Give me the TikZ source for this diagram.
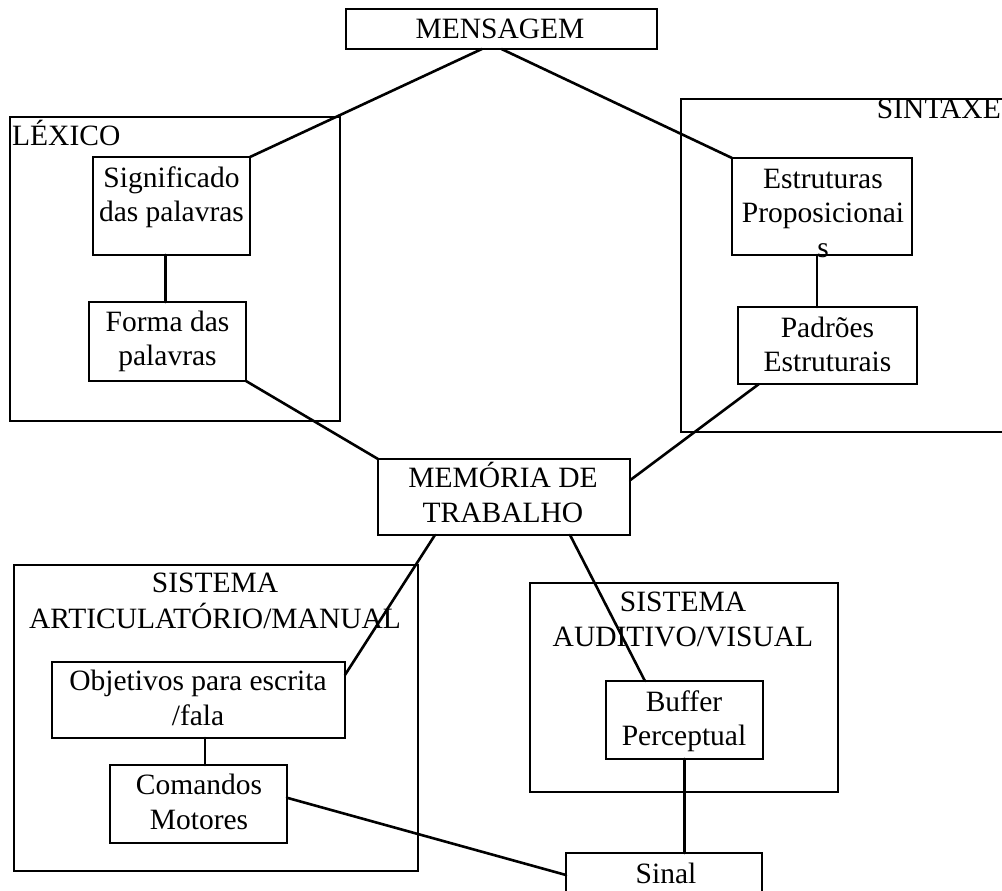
\documentclass[tikz,border=0pt]{standalone}
\usepackage{fontspec}
\setmainfont{Liberation Serif}
\usetikzlibrary{calc}
\tikzset{
  group/.style={draw, line width=1.8pt, inner sep=0pt, outer sep=0pt},
  box/.style={draw, line width=2.2pt, inner sep=0pt, outer sep=0pt},
  txt/.style={inner sep=0pt, align=center, font=\fontsize{29.5}{34.5}\selectfont},
  link/.style={line width=2.6pt, line cap=round},
}
\begin{document}
\begin{tikzpicture}[x=1pt,y=-1pt]
\useasboundingbox (0,0) rectangle (1002,891);
\clip (0,0) rectangle (1002,891);

% module frames
\node[group, minimum width=330pt, minimum height=304pt] (lex)  at (175,269) {};
\node[group, minimum width=329pt, minimum height=333pt] (sint) at (845.5,265.5) {};
\node[group, minimum width=404pt, minimum height=306pt] (art)  at (216,718) {};
\node[group, minimum width=308pt, minimum height=209pt] (aud)  at (684,687.5) {};

% process boxes
\node[box, minimum width=311pt, minimum height=40pt] (mens)  at (501.5,29) {};
\node[box, minimum width=157pt, minimum height=98pt] (sig)   at (171.5,206) {};
\node[box, minimum width=157pt, minimum height=79pt] (forma) at (167.5,341.5) {};
\node[box, minimum width=180pt, minimum height=97pt] (estr)  at (822,206.5) {};
\node[box, minimum width=179pt, minimum height=77pt] (padr)  at (827.5,345.5) {};
\node[box, minimum width=252pt, minimum height=76pt] (mem)   at (504,497) {};
\node[box, minimum width=293pt, minimum height=76pt] (obj)   at (198.5,700) {};
\node[box, minimum width=177pt, minimum height=78pt] (com)   at (198.5,804) {};
\node[box, minimum width=157pt, minimum height=78pt] (buf)   at (684.5,720) {};
\node[box, minimum width=196pt, minimum height=52pt] (sinal) at (664,879) {};

% texts
\node[txt] (tmens) at (500,32.1) {\strut MENSAGEM};
\node[txt, anchor=west] (tlex) at (12,138.1) {\strut LÉXICO};
\node[txt, anchor=east] (tsint) at (1001,111.1) {\strut SINTAXE};
\node[txt] (tsig) at (171.5,197.6) {\strut Significado\\\strut das palavras};
\node[txt] (tforma) at (167.5,341.6) {\strut Forma das\\\strut palavras};
\node[txt] (testr) at (823,215.6) {\strut Estruturas\\\strut Proposicionai\\\strut s};
\node[txt] (tpadr) at (827.5,347.6) {\strut Padrões\\\strut Estruturais};
\node[txt] (tmem) at (503,497.6) {\strut MEMÓRIA DE\\\strut TRABALHO};
\node[txt] (tart) at (215,603.6) {\strut SISTEMA\\\strut ARTICULATÓRIO/MANUAL};
\node[txt] (tobj) at (198,701.1) {\strut Objetivos para escrita\\\strut /fala};
\node[txt] (tcom) at (199,805.1) {\strut Comandos\\\strut Motores};
\node[txt] (taud) at (683,622.1) {\strut SISTEMA\\\strut AUDITIVO/VISUAL};
\node[txt] (tbuf) at (684,721.6) {\strut Buffer\\\strut Perceptual};
\node[txt] (tsinal) at (666,876.1) {\strut Sinal};

% connectors
\draw[link] ($(mens.south west)!0.437!(mens.south east)$) -- (sig.north east);
\draw[link] (mens.south) -- (estr.north west);
\draw[link] ($(sig.south west)!0.46!(sig.south east)$) coordinate (sigb) -- (sigb |- forma.north);
\draw[link] (forma.south east) -- (mem.north west);
\draw[link] ($(estr.south west)!0.472!(estr.south east)$) coordinate (estrb) -- (estrb |- padr.north);
\draw[link] ($(padr.south west)!0.117!(padr.south east)$) -- ($(mem.north east)!0.28!(mem.south east)$);
\draw[link] ($(mem.south west)!0.226!(mem.south east)$) -- ($(obj.north east)!0.17!(obj.south east)$);
\draw[link] ($(mem.south west)!0.762!(mem.south east)$) -- ($(buf.north west)!0.248!(buf.north east)$);
\draw[link] ($(obj.south west)!0.522!(obj.south east)$) coordinate (objb) -- (objb |- com.north);
\draw[link] ($(com.north east)!0.42!(com.south east)$) -- ($(sinal.north west)+(0,22)$);
\draw[link] (buf.south) -- (buf.south |- sinal.north);
\end{tikzpicture}
\end{document}
